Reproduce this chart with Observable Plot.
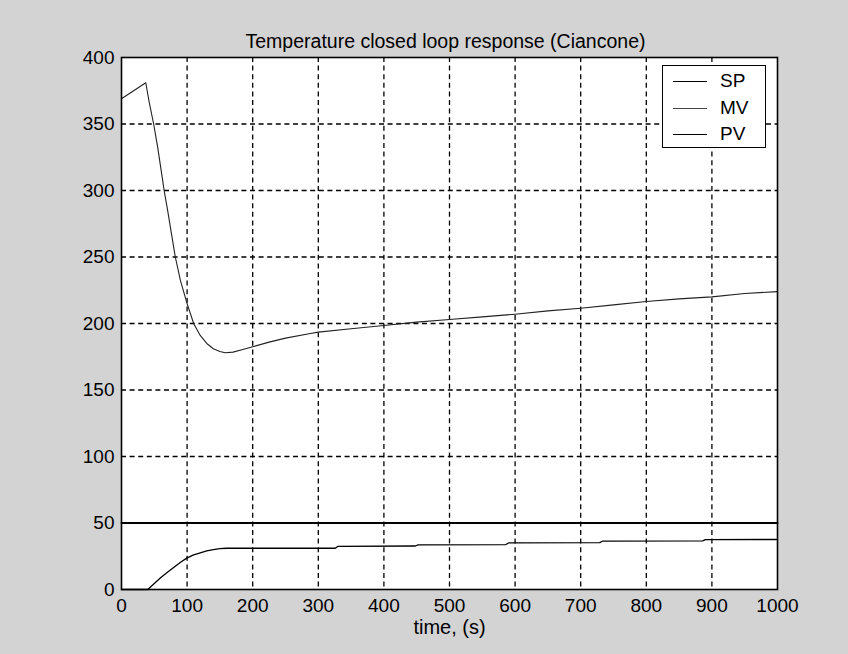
<!DOCTYPE html>
<html>
<head>
<meta charset="utf-8">
<script src="https://cdn.jsdelivr.net/npm/d3@7"></script>
<script src="https://cdn.jsdelivr.net/npm/@observablehq/plot@0.6"></script>
<style>
  html, body { margin: 0; padding: 0; background: #d3d3d3; }
  #wrap { position: relative; width: 848px; height: 654px; overflow: hidden; }
  #legend {
    position: absolute; left: 662px; top: 65px; width: 104px; height: 83px;
    box-sizing: border-box; border: 1.5px solid #000; background: #fff;
    font-family: "Liberation Sans", Arial, sans-serif; font-size: 19px; color: #000;
  }
  .row { position: absolute; left: 0; height: 20px; width: 100%; }
  .sw { position: absolute; left: 10px; top: 10px; width: 34px; height: 0; border-top: 1.2px solid #000; }
  .lb { position: absolute; left: 57px; top: 0; line-height: 20px; }
</style>
</head>
<body>
<div id="wrap"></div>
<script>
// ---- data ----
const titleText = "Temperature closed loop response (Ciancone)";
const xLabelText = "time, (s)";
const xTicks = [0, 100, 200, 300, 400, 500, 600, 700, 800, 900, 1000];
const yTicks = [0, 50, 100, 150, 200, 250, 300, 350, 400];
const seriesNames = ["SP", "MV", "PV"];

const spT = [0, 1000];
const spV = [50, 50];

const mvT = [0, 37, 42, 49, 55, 62, 65, 70, 76, 82, 90, 100, 110, 120, 130, 140, 150, 158, 170, 185, 200, 225, 250, 288, 300, 350, 400, 450, 500, 550, 600, 650, 700, 750, 800, 850, 900, 950, 1000];
const mvV = [369, 381, 367, 350, 333, 310, 300, 286, 268, 250, 232, 215, 200, 191, 185, 181, 179, 178, 178.5, 180.5, 182.5, 186, 189, 192.5, 193.5, 196, 198.5, 201, 203, 205, 207, 209.5, 211.5, 214, 216.5, 218.5, 220, 222.5, 224];

const pvT = [0, 40, 50, 60, 70, 80, 90, 100, 110, 120, 130, 140, 150, 160, 200, 250, 326, 330, 448, 452, 586, 590, 729, 733, 886, 890, 1000];
const pvV = [0, 0, 4.5, 9, 13, 16.8, 20.5, 23.8, 26, 27.5, 29, 30, 30.7, 31, 31, 31, 31, 32.5, 32.7, 33.5, 33.8, 35, 35.3, 36.3, 36.6, 37.5, 37.6];

// ---- build ----
const toRows = (ts, vs) => ts.map((t, i) => ({t, v: vs[i]}));
const sp = toRows(spT, spV), mv = toRows(mvT, mvV), pv = toRows(pvT, pvV);

const chart = Plot.plot({
  width: 848, height: 654,
  marginLeft: 121, marginRight: 71, marginTop: 57, marginBottom: 65,
  style: {background: "transparent", fontFamily: "'Liberation Sans', Arial, sans-serif", fontSize: "19px", color: "#000", overflow: "visible"},
  x: {domain: [0, 1000], ticks: xTicks, tickSize: 0, tickPadding: 9, tickFormat: d3.format("d"), label: null},
  y: {domain: [0, 400], ticks: yTicks, tickSize: 0, tickPadding: 7, tickFormat: d3.format("d"), label: null},
  marks: [
    Plot.frame({fill: "#fff"}),
    Plot.gridX(xTicks.slice(1, -1), {stroke: "#000", strokeOpacity: 1, strokeWidth: 1.3, strokeDasharray: "5,3.6"}),
    Plot.gridY(yTicks.slice(1, -1), {stroke: "#000", strokeOpacity: 1, strokeWidth: 1.3, strokeDasharray: "5,3.6"}),
    Plot.line(sp, {x: "t", y: "v", stroke: "#000", strokeWidth: 1.8}),
    Plot.line(mv, {x: "t", y: "v", stroke: "#222", strokeWidth: 1.1}),
    Plot.line(pv, {x: "t", y: "v", stroke: "#000", strokeWidth: 1.3}),
    Plot.frame({stroke: "#000", strokeWidth: 1.6}),
    Plot.text([titleText], {text: d => d, frameAnchor: "top", dy: -23, dx: -4, fontSize: 19.5, fill: "#000"}),
    Plot.text([xLabelText], {text: d => d, frameAnchor: "bottom", dy: 44, dx: 0, fontSize: 20, fill: "#000"})
  ]
});
const wrap = document.getElementById("wrap");
wrap.appendChild(chart);

// legend
const legend = document.createElement("div");
legend.id = "legend";
const rowTops = [5, 31.5, 58];
seriesNames.forEach((name, i) => {
  const r = document.createElement("div");
  r.className = "row";
  r.style.top = rowTops[i] + "px";
  r.innerHTML = `<div class="sw" style="border-top-color:${name === "MV" ? "#444" : "#000"}"></div><div class="lb">${name}</div>`;
  legend.appendChild(r);
});
wrap.appendChild(legend);
</script>
</body>
</html>
